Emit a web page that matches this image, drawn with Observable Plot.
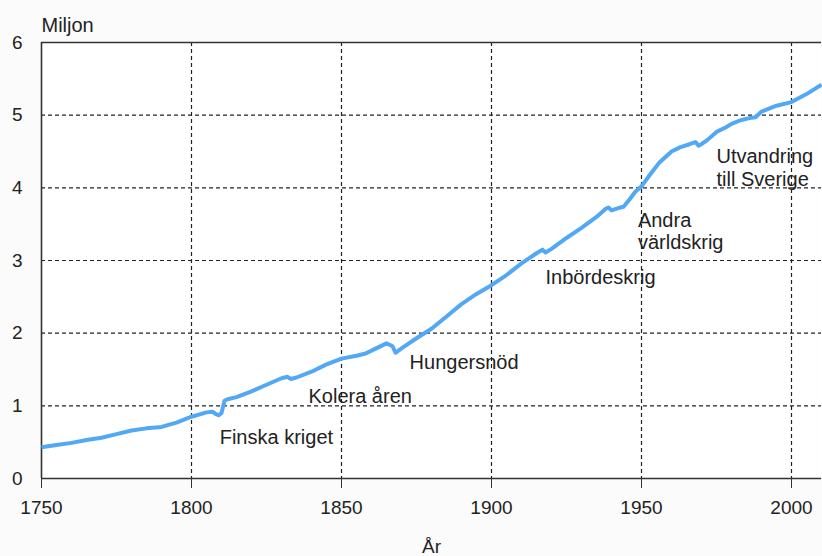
<!DOCTYPE html>
<html>
<head>
<meta charset="utf-8">
<script src="https://cdn.jsdelivr.net/npm/d3@7"></script>
<script src="https://cdn.jsdelivr.net/npm/@observablehq/plot@0.6"></script>
<style>
  html, body { margin: 0; padding: 0; background: #fbfbfb; }
  #chart svg { display: block; background: #fbfbfb; }
</style>
</head>
<body>
<div id="chart"></div>
<script>
// Finlands befolkning (miljoner)
const years = [1750, 1755, 1760, 1765, 1770, 1775, 1780, 1785, 1790, 1795,
  1800, 1805, 1807, 1808, 1809, 1810, 1811, 1812, 1815, 1820,
  1825, 1830, 1832, 1833, 1835, 1840, 1845, 1850, 1855, 1858,
  1860, 1865, 1866, 1867, 1868, 1869, 1870, 1875, 1880, 1885,
  1890, 1895, 1900, 1905, 1910, 1915, 1917, 1918, 1920, 1925,
  1930, 1935, 1938, 1939, 1940, 1943, 1944, 1946, 1948, 1950,
  1953, 1956, 1960, 1963, 1966, 1968, 1969, 1970, 1972, 1975,
  1978, 1980, 1983, 1986, 1988, 1990, 1995, 2000, 2005, 2010];
const population = [0.43, 0.46, 0.49, 0.53, 0.56, 0.61, 0.66, 0.69, 0.71, 0.77,
  0.85, 0.91, 0.92, 0.89, 0.87, 0.90, 1.07, 1.09, 1.12, 1.20,
  1.29, 1.38, 1.40, 1.37, 1.39, 1.47, 1.57, 1.65, 1.69, 1.72,
  1.76, 1.86, 1.84, 1.82, 1.73, 1.76, 1.79, 1.93, 2.06, 2.23,
  2.40, 2.54, 2.66, 2.80, 2.96, 3.10, 3.15, 3.11, 3.16, 3.31,
  3.45, 3.60, 3.71, 3.73, 3.69, 3.73, 3.74, 3.84, 3.95, 4.02,
  4.19, 4.35, 4.50, 4.56, 4.60, 4.63, 4.58, 4.60, 4.66, 4.77,
  4.83, 4.88, 4.93, 4.96, 4.97, 5.05, 5.13, 5.18, 5.29, 5.42];

const xTicks = [1750, 1800, 1850, 1900, 1950, 2000];
const yTicks = [0, 1, 2, 3, 4, 5, 6];
const xDomain = [1750, 2010];
const yDomain = [0, 6];
const yUnit = "Miljon";
const xTitle = "År";

// Händelser (text, år, nivå i miljoner)
const eventLabels = ["Finska kriget", "Kolera åren", "Hungersnöd", "Inbördeskrig",
  "Andra\nvärldskrig", "Utvandring\ntill Sverige"];
const eventYears = [1809.4, 1839.0, 1872.7, 1918.0, 1948.8, 1975.0];
const eventLevels = [0.58, 1.14, 1.60, 2.77, 3.41, 4.28];

const series = years.map((y, i) => ({year: y, pop: population[i]}));
const events = eventLabels.map((t, i) => ({label: t, year: eventYears[i], level: eventLevels[i]}));

const font = "'Liberation Sans', Arial, sans-serif";
const ink = "#222";

const chart = Plot.plot({
  width: 822,
  height: 556,
  marginLeft: 41,
  marginTop: 42,
  marginRight: 1,
  marginBottom: 78,
  style: {fontFamily: font, fontSize: "19px", color: ink, background: "#fbfbfb"},
  x: {domain: xDomain},
  y: {domain: yDomain},
  marks: [
    Plot.frame({fill: "white"}),
    Plot.text(events, {x: "year", y: "level", text: "label", textAnchor: "start",
      lineAnchor: "middle", lineHeight: 1.12, fontSize: 20, fill: ink}),
    Plot.gridX(xTicks.slice(1), {stroke: ink, strokeOpacity: 1, strokeDasharray: "4,3", strokeWidth: 1.2}),
    Plot.gridY(yTicks.slice(1, -1), {stroke: ink, strokeOpacity: 1, strokeDasharray: "4,3", strokeWidth: 1.2}),
    Plot.ruleY(yDomain, {stroke: "#333", strokeWidth: 1.6}),
    Plot.ruleX(xDomain.slice(0, 1), {stroke: "#333", strokeWidth: 1.6}),
    Plot.axisX(xTicks, {tickSize: 10, tickPadding: 12, tickFormat: "d", label: xTitle,
      labelAnchor: "center", labelArrow: "none", labelOffset: 74, fontSize: 19, stroke: "#333"}),
    Plot.axisY(yTicks, {tickSize: 0, tickPadding: 19, tickFormat: "d", label: null, fontSize: 19}),
    Plot.text([yUnit], {frameAnchor: "top-left", text: d => d, textAnchor: "start",
      lineAnchor: "bottom", dy: -11, fontSize: 20, fill: ink}),
    Plot.line(series, {x: "year", y: "pop", stroke: "#52a8f5", strokeWidth: 4,
      strokeLinejoin: "round", strokeLinecap: "butt"})
  ]
});
document.getElementById("chart").appendChild(chart);
</script>
</body>
</html>
